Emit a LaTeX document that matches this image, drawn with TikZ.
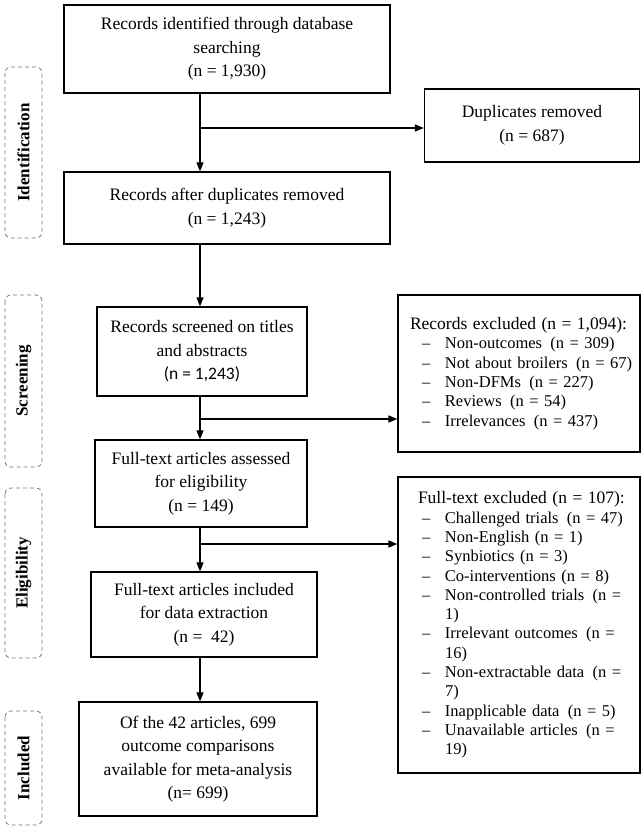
\documentclass[tikz,border=0pt]{standalone}
\usepackage{fontspec}
\setmainfont{Liberation Serif}
\newfontfamily\calfont{Carlito}
\usetikzlibrary{positioning, arrows.meta}

% one bullet line of an exclusion list, and its wrapped tail
\newcommand{\itm}[1]{\mbox{\makebox[39pt][l]{\hspace{16pt}--}#1}}
\newcommand{\cnt}[1]{\hspace{39pt}#1}
\newcommand{\lhead}[1]{{\fontsize{17.5}{19.3}\selectfont #1}}

\begin{document}
\begin{tikzpicture}[x=1pt, y=-1pt,
    box/.style={draw, line width=1.2pt, align=center, inner sep=0pt,
      font=\fontsize{17.5}{23.5}\selectfont},
    list/.style={draw, line width=1.2pt, align=left, inner xsep=8pt, text width=226pt,
      font=\fontsize{16.5}{19.3}\selectfont},
    phase/.style={draw=black!55, dashed, dash pattern=on 4pt off 3pt, line width=0.8pt,
      rounded corners=6pt, rotate=90, minimum height=37pt, inner sep=0pt,
      font=\bfseries\fontsize{17}{20}\selectfont},
    arr/.style={-{Triangle[length=9pt, width=7pt]}, line width=1.4pt}
  ]
  \useasboundingbox (0,0) rectangle (641,828);

  % phases
  \node[phase, minimum width=171pt] (ph-id)  at (23.5,152.5) {Identification};
  \node[phase, minimum width=172pt] (ph-scr) at (23.5,381)   {Screening};
  \node[phase, minimum width=170pt] (ph-el)  at (23.5,573)   {Eligibility};
  \node[phase, minimum width=114pt] (ph-inc) at (23.5,768)   {Included};

  % main column
  \node[box, minimum width=326pt, minimum height=88pt] (ident) at (227,49)
    {Records identified through database\\searching\\(n = 1,930)};
  \node[box, minimum width=326pt, minimum height=72pt] (after) at (227,208)
    {Records after duplicates removed\\(n = 1,243)};
  \node[box, minimum width=210pt, minimum height=89pt] (screen) at (202,351.5)
    {Records screened on titles\\and abstracts\\{\calfont(n = 1,243)}};
  \node[box, minimum width=212pt, minimum height=87pt] (assess) at (201,483.5)
    {Full-text articles assessed\\for eligibility\\(n = 149)};
  \node[box, minimum width=226pt, minimum height=85pt] (incl) at (204,614.5)
    {Full-text articles included\\for data extraction\\(n = \ 42)};
  \node[box, minimum width=238pt, minimum height=114pt] (meta) at (198,759)
    {Of the 42 articles, 699\\outcome comparisons\\available for meta-analysis\\(n= 699)};

  % side column
  \node[box, minimum width=215pt, minimum height=73pt] (dupl) at (532,125.5)
    {Duplicates removed\\(n = 687)};
  \node[list, minimum height=157pt] (recex) at (519,373.5)
    {\hspace{4pt}\lhead{Records excluded (n = 1,094):}\\
     \itm{Non-outcomes\, (n = 309)}\\
     \itm{Not about broilers\, (n = 67)}\\
     \itm{Non-DFMs\, (n = 227)}\\
     \itm{Reviews\, (n = 54)}\\
     \itm{Irrelevances\, (n = 437)}};
  \node[list, minimum height=296pt] (ftex) at (519,625)
    {\hspace{12pt}\lhead{Full-text excluded (n = 107):}\\
     \itm{Challenged trials\, (n = 47)}\\
     \itm{Non-English (n = 1)}\\
     \itm{Synbiotics (n = 3)}\\
     \itm{Co-interventions (n = 8)}\\
     \itm{Non-controlled trials\, (n =}\\ \cnt{1)}\\
     \itm{Irrelevant outcomes\, (n =}\\ \cnt{16)}\\
     \itm{Non-extractable data\, (n =}\\ \cnt{7)}\\
     \itm{Inapplicable data\, (n = 5)}\\
     \itm{Unavailable articles\, (n =}\\ \cnt{19)}};

  % connectors
  \coordinate (spine) at (200,0);
  \coordinate (b1) at (200,128);
  \coordinate (b2) at (200,419);
  \coordinate (b3) at (200,544);
  \draw[arr] (ident.south -| spine) -- (after.north -| spine);
  \draw[arr] (b1) -- (b1 -| dupl.west);
  \draw[arr] (after.south -| spine) -- (screen.north -| spine);
  \draw[arr] (screen.south -| spine) -- (assess.north -| spine);
  \draw[arr] (b2) -- (b2 -| recex.west);
  \draw[arr] (assess.south -| spine) -- (incl.north -| spine);
  \draw[arr] (b3) -- (b3 -| ftex.west);
  \draw[arr] (incl.south -| spine) -- (meta.north -| spine);

\end{tikzpicture}
\end{document}
